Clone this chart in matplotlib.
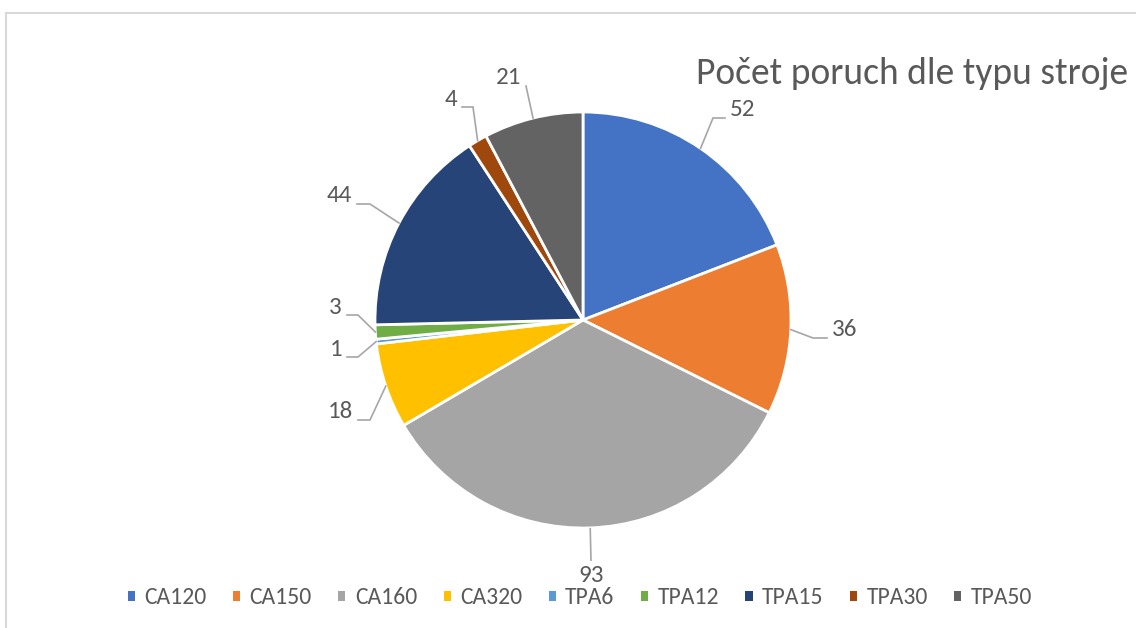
import matplotlib
matplotlib.use("Agg")
import matplotlib.pyplot as plt
from matplotlib import font_manager
from matplotlib.patches import Rectangle
import numpy as np

categories = ["CA120", "CA150", "CA160", "CA320", "TPA6", "TPA12", "TPA15", "TPA30", "TPA50"]
values = [52, 36, 93, 18, 1, 3, 44, 4, 21]
colors = ["#4472C4", "#ED7D31", "#A5A5A5", "#FFC000", "#5B9BD5",
          "#70AD47", "#264478", "#9E480E", "#636363"]
title = "Počet poruch dle typu stroje"

# font choice
fam = "DejaVu Sans"
for cand in ["Carlito", "Liberation Sans Narrow", "Open Sans", "Lato"]:
    try:
        font_manager.findfont(cand, fallback_to_default=False)
        fam = cand
        break
    except Exception:
        pass
plt.rcParams["font.family"] = [fam, "DejaVu Sans"]

W, H = 1136, 628
TXT = "#595959"
fig = plt.figure(figsize=(W / 100, H / 100), dpi=100)
ax = fig.add_axes([0, 0, 1, 1])

cx, cy_img, R = 583, 320, 208
cy = H - cy_img

wedges, _ = ax.pie(values, colors=colors, startangle=90, counterclock=False,
                   radius=R, center=(cx, cy), frame=True,
                   wedgeprops=dict(edgecolor="white", linewidth=2))
ax.set_xlim(0, W)
ax.set_ylim(0, H)
ax.set_aspect("auto")
ax.axis("off")

# label layout (image pixel coords): elbow x, elbow y, horizontal length, side
layout = [
    (713, 118, 12, +1),
    (813, 338, 14, +1),
    (591, 561, 0, 0),
    (370, 420, 12, -1),
    (358, 357, 11, -1),
    (358, 315, 11, -1),
    (370, 204, 13, -1),
    (473, 107, 11, -1),
    (526, 86, 0, -1),
]
LC = "#A6A6A6"
lfs = 18
for w, v, (ex, ey, hl, side) in zip(wedges, values, layout):
    mid = np.deg2rad((w.theta1 + w.theta2) / 2)
    px, py = cx + R * np.cos(mid), cy + R * np.sin(mid)
    ey_d = H - ey
    if side == 0:
        ax.plot([px, ex], [py, ey_d], color=LC, lw=1.2, solid_capstyle="butt")
        ax.text(ex, ey_d - 15, str(v), ha="center", va="center", fontsize=lfs, color=TXT)
    else:
        hx = ex + side * hl
        ax.plot([px, ex, hx], [py, ey_d, ey_d], color=LC, lw=1.2, solid_joinstyle="miter")
        ax.text(hx + side * 5, ey_d + 8, str(v), ha="left" if side > 0 else "right",
                va="center", fontsize=lfs, color=TXT)

fig.text(1128 / W, 1 - 73 / H, title, ha="right", va="center", fontsize=27, color=TXT)

handles = [Rectangle((0, 0), 1, 1, facecolor=c, edgecolor="none") for c in colors]
leg = fig.legend(handles, categories, loc="center", bbox_to_anchor=(580 / W, 1 - 598 / H),
                 ncol=9, frameon=False, fontsize=17, handlelength=0.3, handleheight=0.3,
                 handletextpad=0.4, columnspacing=1.12, labelcolor=TXT)

# chart border
ax.plot([6, 6], [0, H - 13], color="#D9D9D9", lw=1.5)
ax.plot([6, W], [H - 13, H - 13], color="#D9D9D9", lw=1.5)

fig.savefig("out.png", dpi=100)
